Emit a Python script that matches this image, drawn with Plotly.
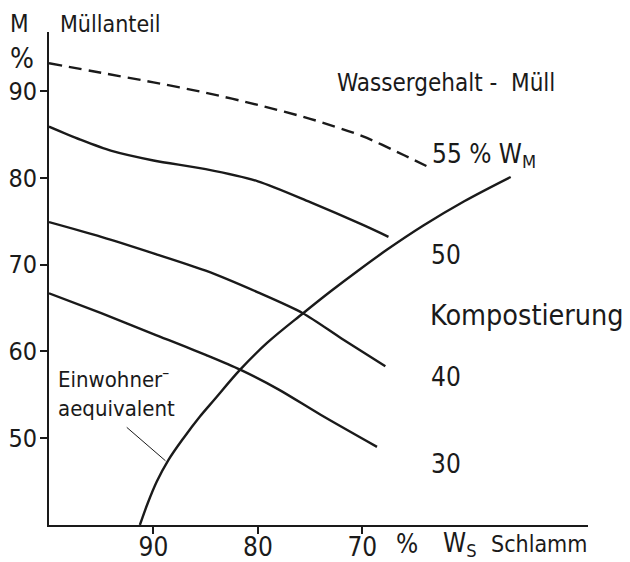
import plotly.graph_objects as go

# ---- data (x = water content sludge W_S %, y = share of refuse M %) ----
x_55 = [100, 95, 90, 85, 80, 75, 70, 66, 63.6]
y_55 = [93.2, 92.1, 91.0, 89.8, 88.4, 86.8, 84.8, 82.6, 81.2]

x_50 = [100, 97, 94, 90, 85, 80, 75, 70, 67.5]
y_50 = [85.9, 84.4, 83.1, 82.0, 81.0, 79.6, 77.2, 74.6, 73.2]

x_40 = [100, 95, 90, 85, 80, 75.7, 72, 67.8]
y_40 = [74.9, 73.2, 71.3, 69.3, 66.8, 64.4, 61.5, 58.3]

x_30 = [100, 95, 90, 85, 81.7, 78, 74, 68.6]
y_30 = [66.7, 64.4, 62.0, 59.6, 57.9, 55.6, 52.7, 49.0]

x_komp = [91.3, 90.55, 89.68, 88.56, 87.13, 85.55, 84.2, 81.7, 79.1,
          75.67, 73.06, 70.42, 67.66, 64.16, 60.25, 55.8]
y_komp = [40.0, 42.5, 45.0, 47.5, 50.0, 52.5, 54.4, 57.9, 61.0,
          64.4, 66.9, 69.3, 71.7, 74.5, 77.3, 80.1]

x_ticks = [90, 80, 70]
x_ticktext = ["90", "80", "70"]
y_ticks = [50, 60, 70, 80, 90]
y_ticktext = ["50", "60", "70", "80", "90"]

leader_from = (92.7, 51.4)
leader_to = (88.85, 47.4)

# ---- layout geometry (page body has an 8px margin) ----
OFF = 8
W, H = 630 - OFF, 562 - OFF
L, T = 49 - OFF, 32 - OFF
R = 630 - 588
B = 562 - 525
PW, PH = W - L - R, H - T - B

def px(xp):
    return (xp - OFF - L) / PW

def py(yp):
    return (H - B - (yp - OFF)) / PH

FONT = "DejaVu Sans Condensed, DejaVu Sans, sans-serif"
BLACK = "#1a1a1a"

fig = go.Figure()

def add_curve(xs, ys, dash="solid", smoothing=0.8):
    fig.add_trace(go.Scatter(
        x=xs, y=ys, mode="lines",
        line=dict(color=BLACK, width=2.4, dash=dash, shape="spline", smoothing=smoothing),
        hoverinfo="skip", showlegend=False, cliponaxis=False))

add_curve(x_55, y_55, dash="13px,7px")
add_curve(x_50, y_50)
add_curve(x_40, y_40)
add_curve(x_30, y_30)
add_curve(x_komp, y_komp, smoothing=1.0)

ann = []

def text(s, xp, yp, size, xanchor="left", yanchor="middle", align="left"):
    ann.append(dict(text=s, x=px(xp), y=py(yp), xref="paper", yref="paper",
                    xanchor=xanchor, yanchor=yanchor, align=align, showarrow=False,
                    font=dict(family=FONT, size=size, color=BLACK)))

text("M", 8, 24, 24)
text("Müllanteil", 58, 24, 23)
text("%", 8, 58, 28)
text("Wassergehalt -  Müll", 335, 83, 24)
text("55 % W<sub>M</sub>", 430, 155, 26)
text("50", 429, 255, 26)
text("Kompostierung", 428, 316, 28.5)
text("40", 429, 377, 26)
text("30", 429, 464, 26)
text("Einwohner<sup>–</sup><br>aequivalent", 56, 392, 22)
text("%", 394, 544, 26)
text("W<sub>S</sub>", 441, 544, 26)
text("Schlamm", 589, 544, 23, xanchor="right")

ann.append(dict(x=leader_to[0], y=leader_to[1], ax=leader_from[0], ay=leader_from[1],
                xref="x", yref="y", axref="x", ayref="y", text="", showarrow=True,
                arrowhead=0, arrowwidth=1, arrowcolor=BLACK))

fig.update_layout(
    width=W, height=H,
    margin=dict(l=L, r=R, t=T, b=B, autoexpand=False),
    paper_bgcolor="white", plot_bgcolor="white",
    annotations=ann,
    font=dict(family=FONT, color=BLACK),
    xaxis=dict(range=[100, 48.4], showgrid=False, zeroline=False, automargin=False,
               showline=True, linecolor=BLACK, linewidth=2,
               ticks="outside", ticklen=7, tickwidth=1.5, tickcolor=BLACK,
               ticklabelstandoff=-9,
               tickvals=x_ticks, ticktext=x_ticktext,
               tickfont=dict(family=FONT, size=26, color=BLACK)),
    yaxis=dict(range=[40, 96.8], showgrid=False, zeroline=False, automargin=False,
               showline=True, linecolor=BLACK, linewidth=2,
               ticks="outside", ticklen=7, tickwidth=1.5, tickcolor=BLACK,
               ticklabelstandoff=-2,
               tickvals=y_ticks, ticktext=y_ticktext,
               tickfont=dict(family=FONT, size=25, color=BLACK)),
)

fig.write_html("out.html")
